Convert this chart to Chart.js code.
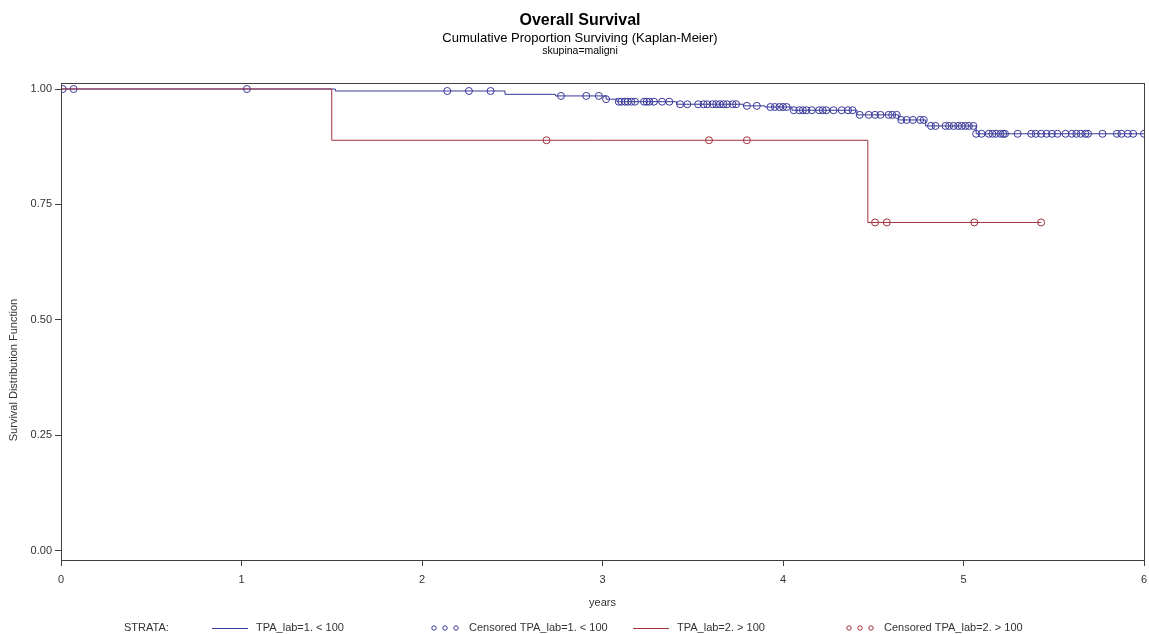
<!DOCTYPE html>
<html>
<head>
<meta charset="utf-8">
<title>Overall Survival</title>
<script src="https://cdn.jsdelivr.net/npm/chart.js@4.4.1/dist/chart.umd.min.js"></script>
<style>
  html, body { margin: 0; padding: 0; background: #fff; }
  #wrap { width: 1149px; height: 634px; }
</style>
</head>
<body>
<div id="wrap"><canvas id="km" width="1149" height="634"></canvas></div>
<script>
// Kaplan-Meier curves: time (years) where survival changes and the value from that time on
var blueStepTimes = [0, 1.52, 2.46, 2.74, 3.02, 3.08, 3.41, 3.78, 3.90, 4.05, 4.41, 4.64, 4.79, 5.07, 6.00];
var blueStepSurv  = [1.0, 0.9957, 0.9885, 0.985, 0.978, 0.9725, 0.967, 0.9635, 0.961, 0.954, 0.944, 0.933, 0.920, 0.903, 0.903];
var blueCensored = [0.01, 0.07, 1.03, 2.14, 2.26, 2.38, 2.77, 2.91, 2.98, 3.02,
  3.09, 3.105, 3.125, 3.14, 3.16, 3.18, 3.23, 3.245, 3.26, 3.285, 3.33, 3.37,
  3.43, 3.47, 3.53, 3.56, 3.58, 3.61, 3.63, 3.65, 3.67, 3.69, 3.72, 3.74,
  3.80, 3.855, 3.93, 3.955, 3.98, 4.00, 4.02, 4.06, 4.09, 4.11, 4.13, 4.16,
  4.20, 4.22, 4.24, 4.28, 4.325, 4.36, 4.385, 4.425, 4.475, 4.51, 4.54,
  4.585, 4.605, 4.63, 4.655, 4.685, 4.72, 4.76, 4.78, 4.82, 4.845,
  4.90, 4.92, 4.945, 4.97, 4.99, 5.01, 5.03, 5.055, 5.07, 5.10,
  5.14, 5.16, 5.18, 5.205, 5.22, 5.23, 5.30, 5.375, 5.40, 5.43, 5.46, 5.49,
  5.52, 5.565, 5.60, 5.625, 5.65, 5.675, 5.69, 5.77, 5.85, 5.875, 5.91, 5.94, 6.00];

var redStepTimes = [0, 1.50, 4.47, 5.43];
var redStepSurv  = [1.0, 0.889, 0.711, 0.711];
var redCensored = [2.69, 3.59, 3.80, 4.51, 4.575, 5.06, 5.43];

var xTicks = [0, 1, 2, 3, 4, 5, 6];
var yTicks = [0, 0.25, 0.5, 0.75, 1.0];

var FONT = 'Arial, "Liberation Sans", sans-serif';
var BLUE = '#38389a';
var RED = '#a0303c';
var AXIS = '#404040';
var TEXT = '#333333';

function stepPoints(times, surv) {
    return times.map(function(t, i) { return {x: t, y: surv[i]}; });
}

// survival value of the step curve at time t (censoring sits after events at the same time)
function survAt(times, surv, t) {
    var s = surv[0];
    for (var i = 0; i < times.length; i++) {
        if (times[i] <= t) s = surv[i];
    }
    return s;
}

function censorPoints(censored, times, surv) {
    return censored.map(function(t) { return {x: t, y: survAt(times, surv, t)}; });
}

var legendItems = [
    {kind: 'line', color: BLUE, text: 'TPA_lab=1. < 100', x: 212},
    {kind: 'dots', color: BLUE, text: 'Censored TPA_lab=1. < 100', x: 432},
    {kind: 'line', color: RED, text: 'TPA_lab=2. > 100', x: 633},
    {kind: 'dots', color: RED, text: 'Censored TPA_lab=2. > 100', x: 847}
];

// titles, frame, axis title and the strata legend
var decorations = {
    id: 'decorations',
    afterDraw: function(chart) {
        var ctx = chart.ctx;
        var area = chart.chartArea;
        ctx.save();

        ctx.strokeStyle = AXIS;
        ctx.lineWidth = 1;
        ctx.strokeRect(Math.round(area.left) + 0.5, Math.round(area.top) + 0.5,
                       Math.round(area.right - area.left), Math.round(area.bottom - area.top));

        ctx.fillStyle = '#000';
        ctx.textAlign = 'center';
        ctx.textBaseline = 'middle';
        ctx.font = 'bold 16px ' + FONT;
        ctx.fillText('Overall Survival', 580, 21);
        ctx.font = '13px ' + FONT;
        ctx.fillText('Cumulative Proportion Surviving (Kaplan-Meier)', 580, 38);
        ctx.font = '10.5px ' + FONT;
        ctx.fillText('skupina=maligni', 580, 51);

        ctx.fillStyle = TEXT;
        ctx.font = '11px ' + FONT;
        ctx.fillText('years', (area.left + area.right) / 2, 603);

        ctx.save();
        ctx.translate(14, 370);
        ctx.rotate(-Math.PI / 2);
        ctx.fillText('Survival Distribution Function', 0, 0);
        ctx.restore();

        var ly = 628;
        ctx.textAlign = 'left';
        ctx.fillText('STRATA:', 124, ly);
        legendItems.forEach(function(item) {
            ctx.strokeStyle = item.color;
            ctx.lineWidth = 1;
            if (item.kind === 'line') {
                ctx.beginPath();
                ctx.moveTo(item.x, ly + 0.5);
                ctx.lineTo(item.x + 36, ly + 0.5);
                ctx.stroke();
                ctx.fillText(item.text, item.x + 44, ly);
            } else {
                for (var k = 0; k < 3; k++) {
                    ctx.beginPath();
                    ctx.arc(item.x + 2 + k * 11, ly, 2.2, 0, Math.PI * 2);
                    ctx.stroke();
                }
                ctx.fillText(item.text, item.x + 37, ly);
            }
        });
        ctx.restore();
    }
};

new Chart(document.getElementById('km'), {
    type: 'scatter',
    data: {
        datasets: [
            {
                label: 'TPA_lab=2. > 100',
                data: stepPoints(redStepTimes, redStepSurv),
                showLine: true,
                stepped: true,
                borderColor: RED,
                borderWidth: 1,
                pointRadius: 0
            },
            {
                label: 'Censored TPA_lab=2. > 100',
                data: censorPoints(redCensored, redStepTimes, redStepSurv),
                showLine: false,
                pointStyle: 'circle',
                pointRadius: 3.5,
                pointBorderWidth: 1,
                pointBorderColor: RED,
                pointBackgroundColor: 'rgba(0,0,0,0)'
            },
            {
                label: 'TPA_lab=1. < 100',
                data: stepPoints(blueStepTimes, blueStepSurv),
                showLine: true,
                stepped: true,
                borderColor: BLUE,
                borderWidth: 1,
                pointRadius: 0
            },
            {
                label: 'Censored TPA_lab=1. < 100',
                data: censorPoints(blueCensored, blueStepTimes, blueStepSurv),
                showLine: false,
                pointStyle: 'circle',
                pointRadius: 3.5,
                pointBorderWidth: 1,
                pointBorderColor: BLUE,
                pointBackgroundColor: 'rgba(0,0,0,0)'
            }
        ]
    },
    options: {
        responsive: false,
        animation: false,
        layout: { padding: { top: 83, right: -2, bottom: 44, left: 0 } },
        plugins: {
            legend: { display: false },
            tooltip: { enabled: false },
            title: { display: false }
        },
        scales: {
            x: {
                type: 'linear',
                min: 0,
                max: 6,
                afterFit: function(scale) {
                    scale.height = 30;
                    scale.paddingLeft = 0;
                    scale.paddingRight = 0;
                },
                afterBuildTicks: function(scale) {
                    scale.ticks = xTicks.map(function(v) { return {value: v}; });
                },
                ticks: {
                    color: TEXT,
                    font: { family: FONT, size: 11 },
                    padding: 7,
                    maxRotation: 0,
                    autoSkip: false,
                    callback: function(v) { return String(v); }
                },
                grid: { drawOnChartArea: false, drawTicks: true, tickLength: 6, color: AXIS },
                border: { display: true, color: AXIS }
            },
            y: {
                min: -0.02,
                max: 1.013,
                afterFit: function(scale) {
                    scale.width = 61;
                    scale.paddingTop = 0;
                    scale.paddingBottom = 0;
                },
                afterBuildTicks: function(scale) {
                    scale.ticks = yTicks.map(function(v) { return {value: v}; });
                },
                ticks: {
                    color: TEXT,
                    font: { family: FONT, size: 11 },
                    padding: 3,
                    callback: function(v) { return Number(v).toFixed(2); }
                },
                grid: { drawOnChartArea: false, drawTicks: true, tickLength: 6, color: AXIS },
                border: { display: true, color: AXIS }
            }
        }
    },
    plugins: [decorations]
});
</script>
</body>
</html>
